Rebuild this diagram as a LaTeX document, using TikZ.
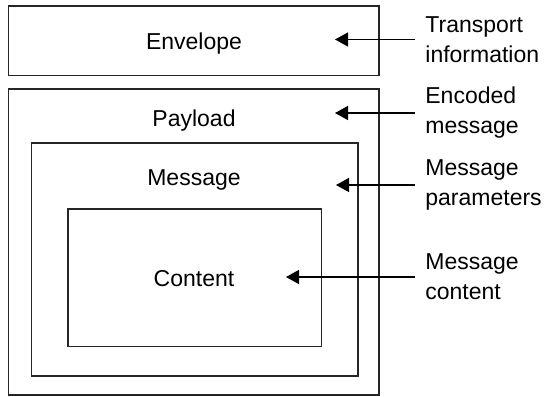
\documentclass[tikz,border=0pt]{standalone}
\usepackage{fontspec}
\setmainfont{Liberation Sans}
\usetikzlibrary{arrows.meta}
\begin{document}
\begin{tikzpicture}[x=0.5pt,y=-0.5pt,
    box/.style={draw=black!85, line width=0.9pt},
    boxtext/.style={anchor=base, inner sep=0pt, font=\fontsize{11.5}{15}\selectfont},
    note/.style={anchor=west, align=left, inner xsep=5pt, inner ysep=0pt, font=\fontsize{11.5}{15}\selectfont},
    pointer/.style={line width=0.7pt, -{Triangle[length=6.5pt,width=7pt]}}]
  \useasboundingbox (0,0) rectangle (545,396);
  % nested boxes
	 \draw[box] (8.5,6) rectangle (379,75.5);
	 \draw[box] (8.5,89) rectangle (379,395);
	 \draw[box] (31.5,143) rectangle (358,376);
	 \draw[box] (68,209) rectangle (321.5,346.5);
  \node[boxtext] (envelope) at (194,49) {Envelope};
  \node[boxtext] (payload) at (194,126) {Payload};
  \node[boxtext] (message) at (194,185) {Message};
  \node[boxtext] (content) at (194,286) {Content};
  % notes on the right
  \coordinate (tipenv) at (335,39.5);
  \coordinate (tippay) at (335,113);
  \coordinate (tipmsg) at (336,185);
  \coordinate (tipcon) at (286,277);
  \node[note] (transport) at (415,39.5) {Transport\\information};
  \node[note] (encoded) at (415,113) {Encoded\\message};
  \node[note] (params) at (415,185) {Message\\parameters};
  \node[note] (msgcontent) at (415,277) {Message\\content};
	 \draw[pointer] (transport.west) -- (tipenv);
	 \draw[pointer] (encoded.west) -- (tippay);
	 \draw[pointer] (params.west) -- (tipmsg);
	 \draw[pointer] (msgcontent.west) -- (tipcon);
\end{tikzpicture}
\end{document}
